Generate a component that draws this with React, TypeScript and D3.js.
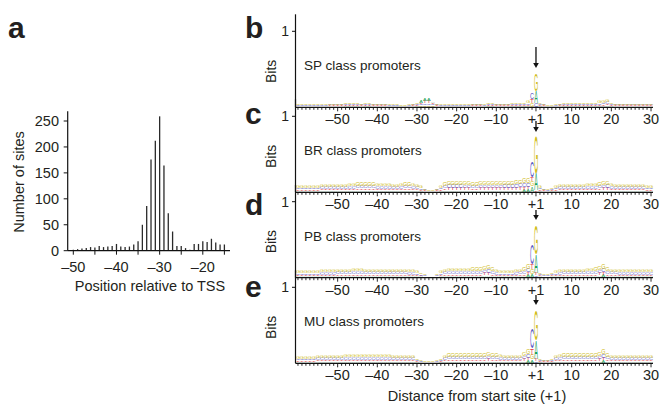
import React from "react";
import * as d3 from "d3";

const FONT = "'Liberation Sans', Arial, Helvetica, sans-serif";

// ---- panel a: histogram of sites ----
const SITE_POS = d3.range(-50, -14); // -50 .. -15
const SITE_COUNTS = [
  2, 3, 4, 5, 7, 6, 9, 7, 8, 9,
  13, 8, 7, 8, 12, 18, 50, 86, 176, 212,
  259, 164, 72, 37, 9, 9, 5, 2, 13, 13,
  18, 17, 23, 16, 12, 12,
];
const SITE_XTICKS = [-50, -40, -30, -20];
const SITE_YTICKS = [0, 50, 100, 150, 200, 250];

// ---- panels b-e: sequence logos ----
const LOGO_POS = [...d3.range(-60, 0), ...d3.range(1, 31)];
const LOGO_TICKS = [-50, -40, -30, -20, -10, 1, 10, 20, 30];
const BG_BASES = ["A", "T", "C", "G"]; // bottom to top
const BG_MIX = [0.15, 0.2, 0.3, 0.35];
const BASE_COLORS: Record<string, string> = { A: "#1fa35c", C: "#5a5ac6", G: "#d0bc1c", T: "#e4393f" };
const INK: Record<string, number> = { A: 0.667, C: 0.64, G: 0.68, T: 0.58 };

const CLASSES = ["SP", "BR", "PB", "MU"];
const PANEL_LETTERS = ["b", "c", "d", "e"];

// total column heights in bits, -60..-1 then +1..+30
const SP_BITS = [
  0.03, 0.03, 0.03, 0.03, 0.03, 0.03, 0.03, 0.03, 0.04, 0.04,
  0.04, 0.04, 0.05, 0.05, 0.05, 0.05, 0.04, 0.05, 0.05, 0.04,
  0.04, 0.04, 0.04, 0.03, 0.03, 0.03, 0.02, 0.02, 0.03, 0.04,
  0.05, 0.08, 0.11, 0.10, 0.07, 0.04, 0.03, 0.03, 0.03, 0.03,
  0.03, 0.03, 0.03, 0.03, 0.04, 0.04, 0.04, 0.03, 0.05, 0.05,
  0.04, 0.04, 0.04, 0.04, 0.05, 0.05, 0.05, 0.06, 0.07, 0.19,
  0.42, 0.06, 0.04, 0.02, 0.02, 0.03, 0.04, 0.05, 0.05, 0.05,
  0.05, 0.05, 0.05, 0.06, 0.05, 0.06, 0.07, 0.08, 0.10, 0.06,
  0.04, 0.04, 0.04, 0.04, 0.04, 0.04, 0.04, 0.04, 0.04, 0.04,
];
const BR_BITS = [
  0.08, 0.08, 0.08, 0.08, 0.08, 0.08, 0.09, 0.09, 0.09, 0.09,
  0.10, 0.10, 0.10, 0.11, 0.11, 0.12, 0.12, 0.12, 0.12, 0.12,
  0.11, 0.11, 0.11, 0.11, 0.10, 0.10, 0.11, 0.12, 0.12, 0.11,
  0.09, 0.07, 0.04, 0.02, 0.02, 0.04, 0.08, 0.12, 0.14, 0.14,
  0.14, 0.14, 0.13, 0.13, 0.12, 0.12, 0.13, 0.13, 0.13, 0.13,
  0.13, 0.13, 0.14, 0.14, 0.14, 0.15, 0.16, 0.17, 0.18, 0.39,
  0.73, 0.08, 0.04, 0.03, 0.06, 0.08, 0.09, 0.10, 0.10, 0.10,
  0.10, 0.10, 0.10, 0.11, 0.11, 0.11, 0.12, 0.13, 0.14, 0.11,
  0.10, 0.09, 0.09, 0.09, 0.09, 0.09, 0.09, 0.09, 0.08, 0.08,
];
const PB_BITS = [
  0.08, 0.08, 0.08, 0.08, 0.08, 0.08, 0.09, 0.09, 0.09, 0.09,
  0.10, 0.10, 0.10, 0.10, 0.11, 0.11, 0.11, 0.10, 0.10, 0.10,
  0.10, 0.10, 0.10, 0.10, 0.10, 0.10, 0.10, 0.10, 0.09, 0.09,
  0.08, 0.05, 0.03, 0.01, 0.01, 0.03, 0.07, 0.10, 0.11, 0.11,
  0.11, 0.11, 0.11, 0.11, 0.12, 0.12, 0.12, 0.13, 0.15, 0.12,
  0.09, 0.08, 0.08, 0.08, 0.08, 0.09, 0.10, 0.12, 0.17, 0.43,
  0.68, 0.06, 0.03, 0.03, 0.06, 0.08, 0.09, 0.10, 0.10, 0.10,
  0.10, 0.10, 0.10, 0.11, 0.11, 0.12, 0.13, 0.17, 0.12, 0.10,
  0.10, 0.09, 0.09, 0.09, 0.09, 0.09, 0.09, 0.09, 0.09, 0.09,
];
const MU_BITS = [
  0.08, 0.08, 0.08, 0.08, 0.08, 0.09, 0.09, 0.09, 0.09, 0.09,
  0.10, 0.10, 0.11, 0.11, 0.11, 0.11, 0.11, 0.11, 0.11, 0.11,
  0.11, 0.11, 0.11, 0.11, 0.10, 0.10, 0.09, 0.09, 0.09, 0.09,
  0.06, 0.03, 0.02, 0.02, 0.02, 0.03, 0.06, 0.10, 0.12, 0.12,
  0.12, 0.12, 0.12, 0.12, 0.12, 0.12, 0.12, 0.12, 0.13, 0.12,
  0.12, 0.11, 0.10, 0.10, 0.09, 0.09, 0.10, 0.13, 0.18, 0.45,
  0.70, 0.06, 0.04, 0.04, 0.05, 0.09, 0.11, 0.12, 0.12, 0.12,
  0.12, 0.12, 0.12, 0.12, 0.12, 0.12, 0.13, 0.18, 0.12, 0.10,
  0.09, 0.09, 0.09, 0.09, 0.09, 0.09, 0.09, 0.09, 0.09, 0.09,
];

// columns with their own letter stacks, bottom to top
type Stack = [string, number][];
const SP_PEAKS: Record<number, Stack> = {
  [-29]: [["G", 0.02], ["C", 0.01], ["T", 0.02], ["A", 0.03]],
  [-28]: [["G", 0.02], ["C", 0.02], ["T", 0.03], ["A", 0.04]],
  [-27]: [["G", 0.02], ["C", 0.02], ["T", 0.03], ["A", 0.03]],
  [-26]: [["G", 0.02], ["C", 0.01], ["T", 0.02], ["A", 0.02]],
  [-1]: [["G", 0.05], ["T", 0.05], ["C", 0.09]],
  [1]: [["C", 0.05], ["A", 0.15], ["G", 0.22]],
};
const BR_PEAKS: Record<number, Stack> = {
  [-1]: [["A", 0.07], ["G", 0.07], ["T", 0.05], ["C", 0.2]],
  [1]: [["T", 0.02], ["A", 0.22], ["G", 0.49]],
};
const PB_PEAKS: Record<number, Stack> = {
  [-1]: [["A", 0.04], ["G", 0.06], ["T", 0.07], ["C", 0.26]],
  [1]: [["C", 0.02], ["T", 0.03], ["A", 0.25], ["G", 0.38]],
};
const MU_PEAKS: Record<number, Stack> = {
  [-1]: [["A", 0.04], ["G", 0.06], ["T", 0.09], ["C", 0.26]],
  [1]: [["C", 0.02], ["T", 0.03], ["A", 0.25], ["G", 0.4]],
};

const ALL_BITS = [SP_BITS, BR_BITS, PB_BITS, MU_BITS];
const ALL_PEAKS = [SP_PEAKS, BR_PEAKS, PB_PEAKS, MU_PEAKS];

// layout
const LOGO_BASE = [107.3, 192.3, 277.7, 363.3];
const LETTER_Y = [38, 124, 215, 297];
const ARROWS: [number, number][] = [[47, 68], [121, 132], [210, 220], [295, 305]];

const xLogo = d3.scaleBand<number>().domain(LOGO_POS).range([296, 653]).padding(0);
const bitPx = d3.scaleLinear().domain([0, 1]).range([0, 76]);

function Letter({ base, cx, w, y, h }: { base: string; cx: number; w: number; y: number; h: number }) {
  const S = 100;
  return (
    <text
      transform={`translate(${cx},${y}) scale(${w / (INK[base] * S)},${h / (0.716 * S)})`}
      fontSize={S}
      textAnchor="middle"
      fill={BASE_COLORS[base]}
    >
      {base}
    </text>
  );
}

function Logo({ idx }: { idx: number }) {
  const base = LOGO_BASE[idx];
  const bits = ALL_BITS[idx];
  const peaks = ALL_PEAKS[idx];
  const bw = xLogo.bandwidth();
  const axisTop = base - 93;
  const arrowX = xLogo(1)! + bw / 2;
  const [a0, a1] = ARROWS[idx];

  const letters: JSX.Element[] = [];
  LOGO_POS.forEach((p, i) => {
    const cx = xLogo(p)! + bw / 2;
    const stack: Stack = peaks[p] ?? BG_BASES.map((b, k) => [b, bits[i] * BG_MIX[k]] as [string, number]);
    let y = base - 0.8;
    stack.forEach(([b, v], k) => {
      const h = bitPx(v);
      if (h >= 0.3) {
        letters.push(<Letter key={`${p}-${k}`} base={b} cx={cx} w={bw * 0.92} y={y} h={h} />);
      }
      y -= h;
    });
  });

  return (
    <g>
      <text x={245} y={LETTER_Y[idx]} fontSize={30} fontWeight="bold" fill="#231f20">
        {PANEL_LETTERS[idx]}
      </text>
      <g fontFamily={FONT}>{letters}</g>
      <line x1={295.5} x2={295.5} y1={axisTop} y2={base} stroke="#111" strokeWidth={1.2} />
      <line x1={292} x2={295.5} y1={base - bitPx(1)} y2={base - bitPx(1)} stroke="#111" strokeWidth={1} />
      <text x={289} y={base - bitPx(1) + 5} fontSize={14} textAnchor="end" fill="#231f20">1</text>
      <text
        transform={`translate(276,${base - 36}) rotate(-90)`}
        fontSize={14}
        textAnchor="middle"
        fill="#231f20"
      >
        Bits
      </text>
      <text x={304} y={base - 37} fontSize={13.5} fill="#231f20">
        {CLASSES[idx]} class promoters
      </text>
      <line x1={295.5} x2={653} y1={base} y2={base} stroke="#111" strokeWidth={1.3} />
      {LOGO_POS.map((p) => {
        const x = xLogo(p)! + bw / 2;
        const major = LOGO_TICKS.includes(p);
        return <line key={p} x1={x} x2={x} y1={base} y2={base + (major ? 4 : 2.5)} stroke="#111" strokeWidth={0.9} />;
      })}
      {LOGO_TICKS.map((p) => (
        <text key={p} x={xLogo(p)! + bw / 2} y={base + 17} fontSize={14.5} textAnchor="middle" fill="#231f20">
          {p < 0 ? `\u2013${-p}` : p === 1 ? "+1" : `${p}`}
        </text>
      ))}
      <line x1={arrowX} x2={arrowX} y1={a0} y2={a1 - 4} stroke="#111" strokeWidth={1.3} />
      <path d={`M${arrowX - 2.8},${a1 - 5} L${arrowX + 2.8},${a1 - 5} L${arrowX},${a1} Z`} fill="#111" />
    </g>
  );
}

function Histogram() {
  const x = d3.scaleLinear().domain([-51.3, -13.7]).range([67.7, 230]);
  const y = d3.scaleLinear().domain([0, 250]).range([250.7, 121]);
  const minor = d3.range(-50, -14, 5);
  return (
    <g fill="#231f20">
      <text x={8} y={38} fontSize={30} fontWeight="bold">a</text>
      {SITE_POS.map((p, i) => (
        <line key={p} x1={x(p)} x2={x(p)} y1={y(0)} y2={y(SITE_COUNTS[i])} stroke="#2a2a2a" strokeWidth={1.3} />
      ))}
      <line x1={x.range()[0]} x2={x.range()[0]} y1={y(0)} y2={y(269)} stroke="#111" strokeWidth={1.2} />
      <line x1={x.range()[0]} x2={x.range()[1]} y1={y(0)} y2={y(0)} stroke="#111" strokeWidth={1.2} />
      {SITE_YTICKS.map((t) => (
        <g key={t}>
          <line x1={x.range()[0] - 4} x2={x.range()[0]} y1={y(t)} y2={y(t)} stroke="#111" strokeWidth={1} />
          <text x={59} y={y(t) + 5} fontSize={14.5} textAnchor="end">{t}</text>
        </g>
      ))}
      {minor.map((t) => (
        <line key={t} x1={x(t)} x2={x(t)} y1={y(0)} y2={y(0) + 4} stroke="#111" strokeWidth={1} />
      ))}
      {SITE_XTICKS.map((t) => (
        <text key={t} x={x(t)} y={272} fontSize={14.5} textAnchor="middle">{`\u2013${-t}`}</text>
      ))}
      <text x={150} y={291} fontSize={14.5} textAnchor="middle">Position relative to TSS</text>
      <text transform="translate(24,182) rotate(-90)" fontSize={14.5} textAnchor="middle">Number of sites</text>
    </g>
  );
}

export default function App() {
  return (
    <svg
      width={663}
      height={405}
      style={{ position: "absolute", left: 0, top: 0, background: "#fff" }}
      fontFamily={FONT}
    >
      <Histogram />
      {CLASSES.map((_, i) => (
        <Logo key={i} idx={i} />
      ))}
      <text x={477} y={401} fontSize={14.5} textAnchor="middle" fill="#231f20">
        Distance from start site (+1)
      </text>
    </svg>
  );
}
